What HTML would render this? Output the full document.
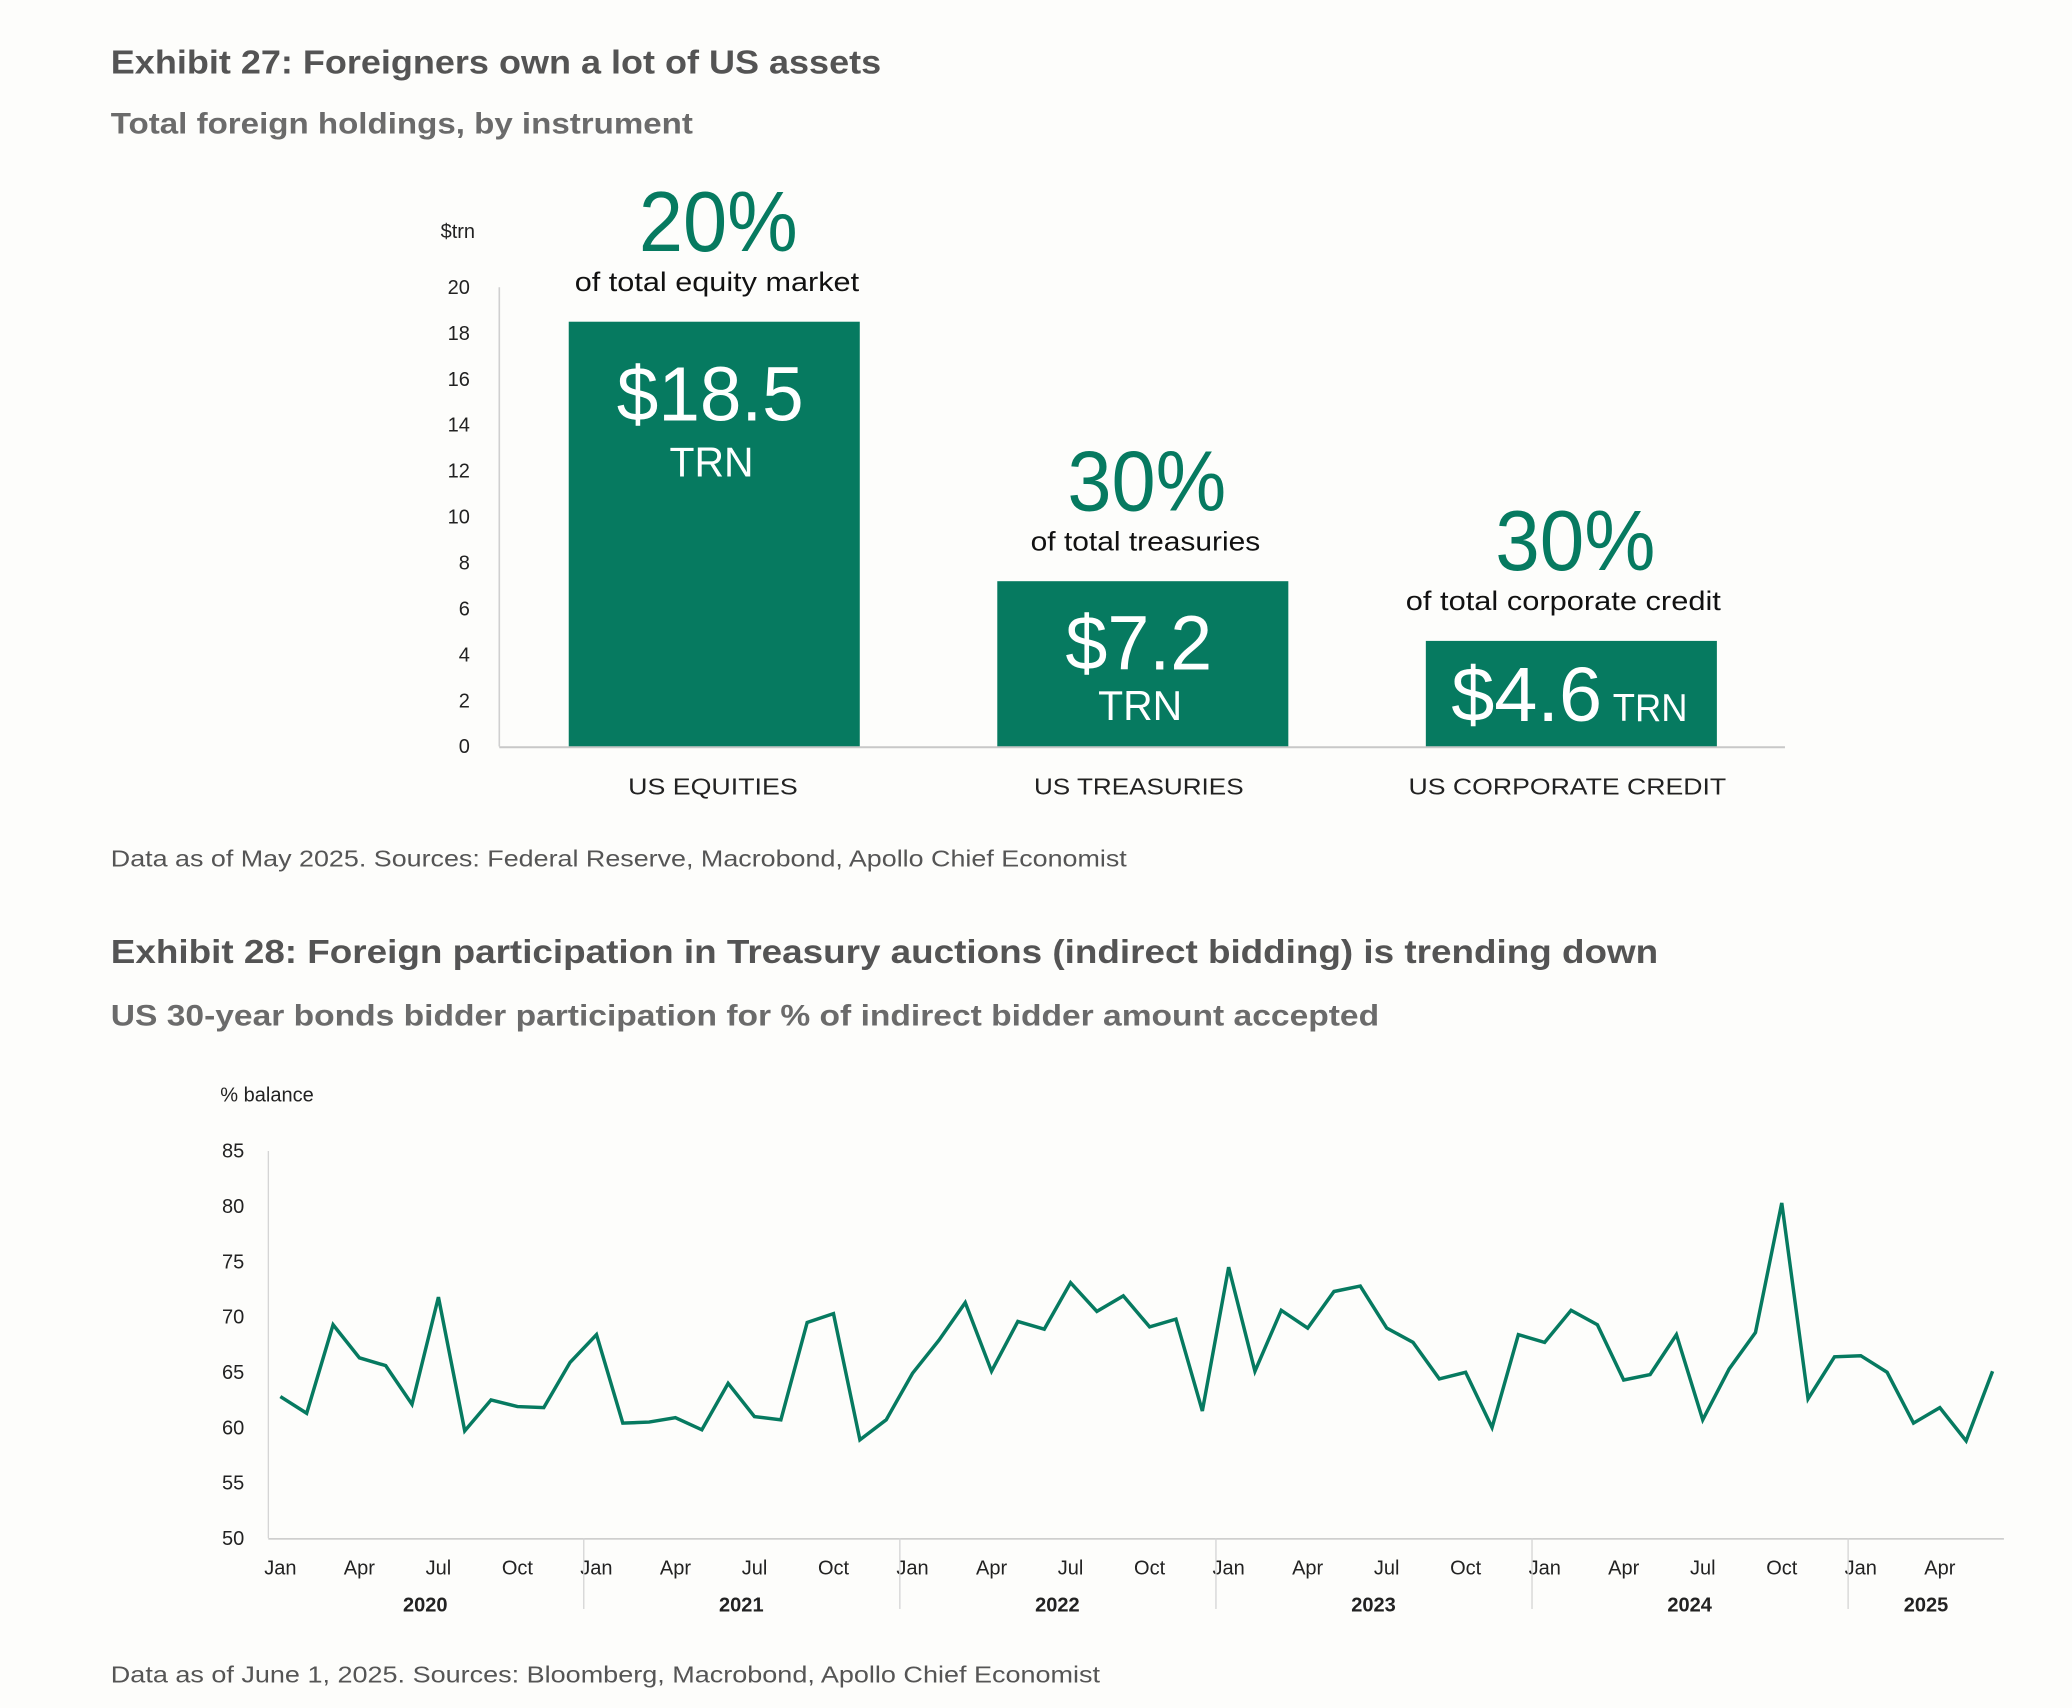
<!DOCTYPE html>
<html><head><meta charset="utf-8"><style>
html,body{margin:0;padding:0;background:#fdfdfb;}
svg{display:block;font-family:"Liberation Sans",sans-serif;}
</style></head><body>
<svg id="s" width="2072" height="1708" viewBox="0 0 1552 1279">
<rect x="0" y="0" width="1552" height="1279" fill="#fdfdfb"/>
<text x="83" y="55" font-size="25" font-weight="bold" fill="#545454" textLength="577" lengthAdjust="spacingAndGlyphs">Exhibit 27: Foreigners own a lot of US assets</text>
<text x="83" y="100" font-size="22" font-weight="bold" fill="#6b6b6b" textLength="436" lengthAdjust="spacingAndGlyphs">Total foreign holdings, by instrument</text>
<g id="c1"></g>
<text x="83" y="649" font-size="17" fill="#555" textLength="761" lengthAdjust="spacingAndGlyphs">Data as of May 2025. Sources: Federal Reserve, Macrobond, Apollo Chief Economist</text>
<text x="83" y="721" font-size="25" font-weight="bold" fill="#545454" textLength="1159" lengthAdjust="spacingAndGlyphs">Exhibit 28: Foreign participation in Treasury auctions (indirect bidding) is trending down</text>
<text x="83" y="768" font-size="22" font-weight="bold" fill="#6b6b6b" textLength="950" lengthAdjust="spacingAndGlyphs">US 30-year bonds bidder participation for % of indirect bidder amount accepted</text>
<g id="c2"></g>
<text x="83" y="1260" font-size="17" fill="#555" textLength="741" lengthAdjust="spacingAndGlyphs">Data as of June 1, 2025. Sources: Bloomberg, Macrobond, Apollo Chief Economist</text>
</svg>
<script>
const barCategories=["US EQUITIES","US TREASURIES","US CORPORATE CREDIT"];
const barValues=[18.5,7.2,4.6];
const barShares=["20%","30%","30%"];
const barShareNotes=["of total equity market","of total treasuries","of total corporate credit"];
const barTicks=[0,2,4,6,8,10,12,14,16,18,20];

const lineValues=[62.8,61.3,69.3,66.3,65.6,62.1,71.8,59.7,62.5,61.9,61.8,65.9,
68.4,60.4,60.5,60.9,59.8,64.0,61.0,60.7,69.5,70.3,58.9,60.7,
64.9,67.9,71.3,65.1,69.6,68.9,73.1,70.5,71.9,69.1,69.8,61.5,
74.5,65.1,70.6,69.0,72.3,72.8,69.0,67.7,64.4,65.0,60.0,68.4,
67.7,70.6,69.3,64.3,64.8,68.4,60.7,65.3,68.6,80.3,62.6,66.4,
66.5,65.0,60.4,61.8,58.8,65.1];
const lineTicks=[50,55,60,65,70,75,80,85];
const monthLabels=["Jan","Apr","Jul","Oct"];
const years=["2020","2021","2022","2023","2024","2025"];

const NS="http://www.w3.org/2000/svg";
function mk(p,tag,a,txt){const e=document.createElementNS(NS,tag);for(const k in a)e.setAttribute(k,a[k]);if(txt!==undefined)e.textContent=txt;p.appendChild(e);return e;}
const G="#067a60";
const shareW=[119,119,120], noteW=[213,172,236], catW=[127,157,238];

// chart 1
const c1=document.getElementById('c1');
const y1=v=>559-v*17.2;
const bx=i=>426+i*321;
mk(c1,'line',{x1:374,y1:215,x2:374,y2:559,stroke:"#d0d0d0","stroke-width":1.2});
let t=mk(c1,'text',{x:330,y:178,"font-size":15,fill:"#222"},"$trn");

barTicks.forEach(v=>{const e=mk(c1,'text',{x:352,y:y1(v)+5,"font-size":15,fill:"#222","text-anchor":"end"},String(v));
});
barValues.forEach((v,i)=>{
 const x=bx(i),cx=x+109;
 const r=mk(c1,'rect',{x:x,y:y1(v),width:218,height:v*17.2,fill:G});
 
 const top=y1(v);
 const s=mk(c1,'text',{x:cx+3,y:top-53,"font-size":64,fill:G,"text-anchor":"middle",textLength:shareW[i],lengthAdjust:"spacingAndGlyphs"},barShares[i]);
 
 const n=mk(c1,'text',{x:cx+(i==2?-6:2),y:top-23,"font-size":20,fill:"#111","text-anchor":"middle",textLength:noteW[i],lengthAdjust:"spacingAndGlyphs"},barShareNotes[i]);
 
 let vl,tl;
 if(i<2){vl=mk(c1,'text',{x:cx-3,y:top+(i==0?74:66),"font-size":58,fill:"#fff","text-anchor":"middle",textLength:(i==0?140:110),lengthAdjust:"spacingAndGlyphs"},"$"+v.toFixed(1));
  tl=mk(c1,'text',{x:cx-2,y:top+(i==0?116:104),"font-size":31,fill:"#fff","text-anchor":"middle",textLength:63,lengthAdjust:"spacingAndGlyphs"},"TRN");}
 else{vl=mk(c1,'text',{x:x+19,y:top+60,"font-size":58,fill:"#fff",textLength:113,lengthAdjust:"spacingAndGlyphs"},"$"+v.toFixed(1));
  tl=mk(c1,'text',{x:x+140,y:top+60,"font-size":29,fill:"#fff",textLength:56,lengthAdjust:"spacingAndGlyphs"},"TRN");}
 
 
 const c=mk(c1,'text',{x:cx-(i==0?1:3),y:595,"font-size":17,fill:"#222","text-anchor":"middle",textLength:catW[i],lengthAdjust:"spacingAndGlyphs"},barCategories[i]);
 
});
mk(c1,'line',{x1:374,y1:559.5,x2:1337,y2:559.5,stroke:"#c8c8c8","stroke-width":1.5});

// chart 2
const c2=document.getElementById('c2');
const y2=v=>1152-(v-50)*(290/35);
const x2=i=>210+i*19.73;
t=mk(c2,'text',{x:165,y:825,"font-size":15,fill:"#222"},"% balance");

mk(c2,'line',{x1:201,y1:862,x2:201,y2:1152,stroke:"#d5d5d5","stroke-width":1});
lineTicks.forEach(v=>{const e=mk(c2,'text',{x:183,y:y2(v)+5,"font-size":15,fill:"#222","text-anchor":"end"},String(v));
});
mk(c2,'line',{x1:201,y1:1152.5,x2:1501,y2:1152.5,stroke:"#c8c8c8","stroke-width":1.2});
const nMonths=lineValues.length;
for(let m=0;m<nMonths;m+=3){const e=mk(c2,'text',{x:x2(m),y:1179,"font-size":15,fill:"#222","text-anchor":"middle"},monthLabels[(m/3)%4]);
}
years.forEach((y,k)=>{
 const s=x2(k*12)-9.5, e2=Math.min(x2(k*12+11)+9.5,1501);
 if(k>0)mk(c2,'line',{x1:s,y1:1152,x2:s,y2:1205,stroke:"#d5d5d5","stroke-width":1});
 const e=mk(c2,'text',{x:(s+e2)/2,y:1207,"font-size":15,"font-weight":"bold",fill:"#222","text-anchor":"middle"},y);
 
});
const pl=mk(c2,'polyline',{points:lineValues.map((v,i)=>x2(i).toFixed(1)+","+y2(v).toFixed(1)).join(" "),fill:"none",stroke:G,"stroke-width":2.6,"stroke-linejoin":"miter"});


</script>
</body></html>
